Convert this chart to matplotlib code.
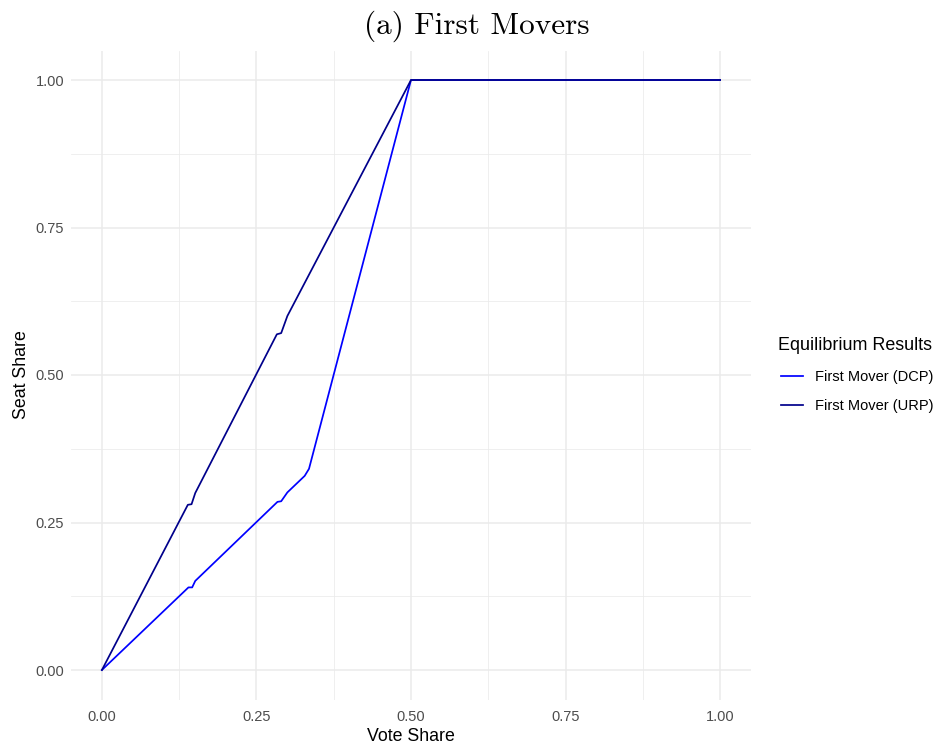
import matplotlib
matplotlib.use("Agg")
import matplotlib.pyplot as plt
import numpy as np

# data
dcp_x = [0.0, 0.140, 0.146, 0.151, 0.284, 0.290, 0.300, 0.328, 0.335, 0.500, 1.0]
dcp_y = [0.0, 0.140, 0.140, 0.151, 0.285, 0.286, 0.301, 0.329, 0.341, 1.000, 1.0]
urp_x = [0.0, 0.139, 0.145, 0.151, 0.283, 0.290, 0.300, 0.500, 1.0]
urp_y = [0.0, 0.280, 0.281, 0.300, 0.569, 0.571, 0.600, 1.000, 1.0]
ticks = [0.0, 0.25, 0.5, 0.75, 1.0]
tick_labels = ["0.00", "0.25", "0.50", "0.75", "1.00"]

plt.rcParams['font.family'] = ['Liberation Sans', 'DejaVu Sans']

fig = plt.figure(figsize=(9.38, 7.47), dpi=100)
ax = fig.add_axes([71/938, 1-699.5/747, 680/938, 649/747])

ax.plot(dcp_x, dcp_y, color='#0000FF', lw=1.25, label='First Mover (DCP)', solid_joinstyle='round')
ax.plot(urp_x, urp_y, color='#00008B', lw=1.25, label='First Mover (URP)', solid_joinstyle='round')

ax.set_xlim(-0.05, 1.05)
ax.set_ylim(-0.05, 1.05)
ax.set_xticks(ticks)
ax.set_xticklabels(tick_labels)
ax.set_yticks(ticks)
ax.set_yticklabels(tick_labels)
ax.set_xticks([0.125, 0.375, 0.625, 0.875], minor=True)
ax.set_yticks([0.125, 0.375, 0.625, 0.875], minor=True)
ax.grid(which='major', color='#EBEBEB', lw=1.1)
ax.grid(which='minor', color='#EBEBEB', lw=0.55)
ax.set_axisbelow(True)
for s in ax.spines.values():
    s.set_visible(False)
ax.tick_params(which='both', length=0, labelsize=10.5, labelcolor='#4D4D4D')
ax.tick_params(axis='x', pad=7.5)
ax.tick_params(axis='y', pad=5)

ax.set_xlabel('Vote Share', fontsize=12.8, labelpad=3)
ax.set_ylabel('Seat Share', fontsize=12.8, labelpad=4)

fig.text(477/938, 1-33.5/747, '(a) First Movers', family='cmr10', fontsize=22.5,
         ha='center', va='baseline')

# legend title as separate text, entries as legend
fig.text(778/938, 1-349.5/747, 'Equilibrium Results', fontsize=12.9,
         ha='left', va='baseline')
leg = ax.legend(loc='center left', bbox_to_anchor=(775/938, 1-391.5/747),
                bbox_transform=fig.transFigure, borderaxespad=0, frameon=False,
                fontsize=10.5, handlelength=1.5, handletextpad=0.82,
                labelspacing=0.99)

fig.savefig('out.png', dpi=100)
